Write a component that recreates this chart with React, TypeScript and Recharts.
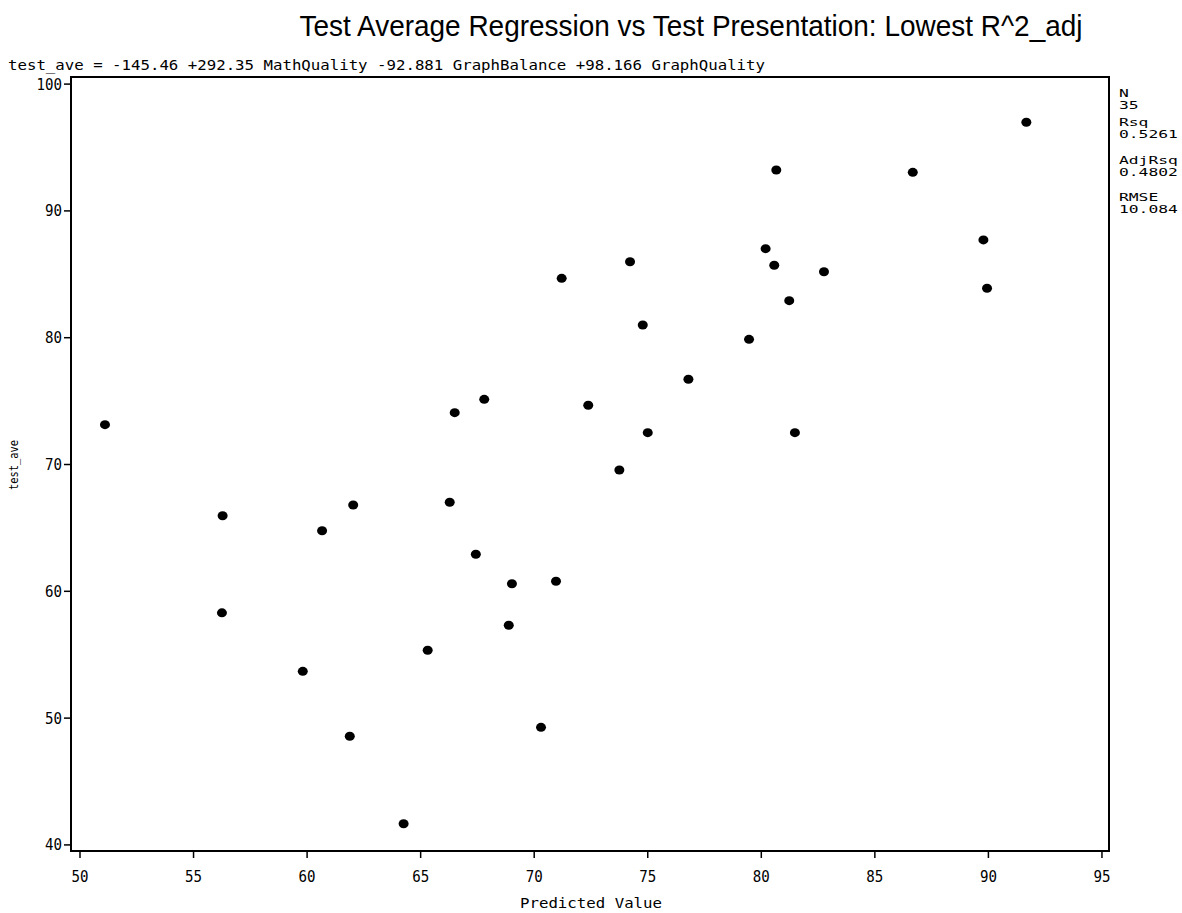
import React from 'react';
import {
  ScatterChart,
  Scatter,
  XAxis,
  YAxis,
  ReferenceArea
} from 'recharts';

// values
const predicted = [
  51.1, 56.28, 56.25, 59.81, 60.66, 61.88, 62.03, 64.25, 65.31, 66.28, 66.5, 67.43,
  67.8, 68.88, 69.02, 70.3, 70.96, 71.21, 72.38, 73.75, 74.22, 74.78, 75.0, 76.79,
  79.46, 80.19, 80.57, 80.66, 81.23, 81.48, 82.76, 86.67, 89.78, 89.94, 91.67
];
const testAve = [
  73.14, 65.96, 58.3, 53.69, 64.78, 48.57, 66.81, 41.67, 55.35, 67.02, 74.09, 62.92,
  75.14, 57.32, 60.6, 49.27, 60.79, 84.68, 74.67, 69.57, 85.99, 81.0, 72.51, 76.72,
  79.87, 87.02, 85.71, 93.23, 82.92, 72.51, 85.2, 93.04, 87.71, 83.9, 96.99
];
const xTicks = [50, 55, 60, 65, 70, 75, 80, 85, 90, 95];
const yTicks = [40, 50, 60, 70, 80, 90, 100];
const statLines = ['N', '35', 'Rsq', '0.5261', 'AdjRsq', '0.4802', 'RMSE', '10.084'];
const statBaselines = [97, 109, 126, 138, 164, 176, 201, 213];

const equation =
  'test_ave = -145.46 +292.35 MathQuality -92.881 GraphBalance +98.166 GraphQuality';

const sasFont = "'DejaVu Sans Mono', 'Liberation Mono', monospace";

const XTick = (props: any) => {
  const { x, y, payload } = props;
  const s = String(payload.value);
  return (
    <text
      x={x}
      y={y + 22}
      textAnchor="middle"
      fontFamily={sasFont}
      fontSize={15}
      fill="#000"
      textLength={s.length * 8.5}
      lengthAdjust="spacingAndGlyphs"
    >
      {s}
    </text>
  );
};

const YTick = (props: any) => {
  const { x, y, payload } = props;
  const s = String(payload.value);
  return (
    <text
      x={x}
      y={y + 5.5}
      textAnchor="end"
      fontFamily={sasFont}
      fontSize={15}
      fill="#000"
      textLength={s.length * 8.5}
      lengthAdjust="spacingAndGlyphs"
    >
      {s}
    </text>
  );
};

const Dot = (props: any) => {
  const { cx, cy } = props;
  return <ellipse cx={cx} cy={cy} rx={5} ry={4.5} fill="#000" />;
};

const App: React.FC = () => {
  const data = predicted.map((p, i) => ({ x: p, y: testAve[i] }));
  const xDomain: [number, number] = [49.604, 95.31];
  const yDomain: [number, number] = [39.52, 100.56];

  return (
    <div style={{ position: 'absolute', left: 0, top: 0, width: 1182, height: 913, background: '#fff' }}>
      <ScatterChart
        width={1182}
        height={913}
        margin={{ top: 77, right: 73, bottom: 22, left: 11 }}
      >
        <XAxis
          type="number"
          dataKey="x"
          domain={xDomain}
          ticks={xTicks}
          allowDataOverflow
          height={40}
          axisLine={false}
          tickSize={7}
          tickMargin={2}
          tickLine={{ stroke: '#000', strokeWidth: 1.5 }}
          tick={<XTick />}
        />
        <YAxis
          type="number"
          dataKey="y"
          domain={yDomain}
          ticks={yTicks}
          allowDataOverflow
          width={60}
          axisLine={false}
          tickSize={7}
          tickMargin={2}
          tickLine={{ stroke: '#000', strokeWidth: 1.5 }}
          tick={<YTick />}
        />
        <ReferenceArea
          x1={xDomain[0]}
          x2={xDomain[1]}
          y1={yDomain[0]}
          y2={yDomain[1]}
          fill="none"
          fillOpacity={0}
          stroke="#000"
          strokeWidth={2}
          ifOverflow="visible"
        />
        <Scatter data={data} fill="#000" shape={<Dot />} isAnimationActive={false} />
      </ScatterChart>
      <svg
        width={1182}
        height={913}
        style={{ position: 'absolute', left: 0, top: 0, pointerEvents: 'none' }}
      >
        <text
          x={691}
          y={36}
          textAnchor="middle"
          fontFamily="'Liberation Sans', Arial, sans-serif"
          fontSize={29}
          fill="#000"
          textLength={783}
          lengthAdjust="spacingAndGlyphs"
        >
          Test Average Regression vs Test Presentation: Lowest R^2_adj
        </text>
        <text
          x={8}
          y={70}
          fontFamily={sasFont}
          fontSize={14}
          fill="#000"
          textLength={757}
          lengthAdjust="spacingAndGlyphs"
        >
          {equation}
        </text>
        {statLines.map((s, i) => (
          <text
            key={s + i}
            x={1119}
            y={statBaselines[i]}
            fontFamily={sasFont}
            fontSize={11}
            fill="#000"
            textLength={s.length * 9.8}
            lengthAdjust="spacingAndGlyphs"
          >
            {s}
          </text>
        ))}
        <text
          x={18}
          y={465}
          transform="rotate(-90 18 465)"
          textAnchor="middle"
          fontFamily={sasFont}
          fontSize={12}
          fill="#000"
          textLength={50}
          lengthAdjust="spacingAndGlyphs"
        >
          test_ave
        </text>
        <text
          x={591}
          y={908}
          textAnchor="middle"
          fontFamily={sasFont}
          fontSize={14}
          fill="#000"
          textLength={142}
          lengthAdjust="spacingAndGlyphs"
        >
          Predicted Value
        </text>
      </svg>
    </div>
  );
};

export default App;
